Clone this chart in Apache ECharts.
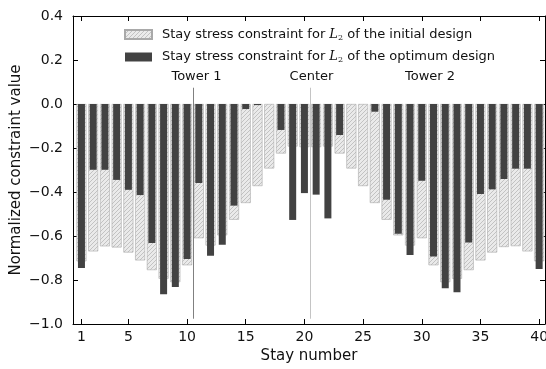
<!DOCTYPE html>
<html>
<head>
<meta charset="utf-8">
<script src="https://cdn.jsdelivr.net/npm/echarts@6/dist/echarts.min.js"></script>
<style>
  html, body { margin: 0; padding: 0; background: #fff; }
  #chart { width: 546px; height: 369px; }
</style>
</head>
<body>
<div id="chart"></div>
<script>
// Stay numbers 1..40
const stays = [1,2,3,4,5,6,7,8,9,10,11,12,13,14,15,16,17,18,19,20,
               21,22,23,24,25,26,27,28,29,30,31,32,33,34,35,36,37,38,39,40];

// Stay stress constraint for L2, initial design
const initialDesign = [
  -0.715, -0.670, -0.647, -0.652, -0.675, -0.711, -0.755, -0.794, -0.810, -0.733,
  -0.610, -0.643, -0.597, -0.526, -0.450, -0.373, -0.293, -0.225, -0.193, -0.196,
  -0.196, -0.193, -0.225, -0.293, -0.373, -0.450, -0.526, -0.597, -0.643, -0.610,
  -0.733, -0.810, -0.794, -0.755, -0.711, -0.675, -0.650, -0.646, -0.670, -0.715
];

// Stay stress constraint for L2, optimum design
const optimumDesign = [
  -0.745, -0.299, -0.299, -0.345, -0.390, -0.414, -0.632, -0.865, -0.832, -0.705,
  -0.359, -0.690, -0.640, -0.462, -0.023, -0.005,  0.000, -0.118, -0.527, -0.405,
  -0.412, -0.520, -0.141,  0.000,  0.000, -0.035, -0.435, -0.590, -0.686, -0.349,
  -0.693, -0.838, -0.856, -0.629, -0.409, -0.388, -0.341, -0.294, -0.294, -0.750
];

const xTickValues = [1, 5, 10, 15, 20, 25, 30, 35, 40];
const yTicks = [-1.0, -0.8, -0.6, -0.4, -0.2, 0.0, 0.2, 0.4];

// Section annotations: [stay position, label]
const sectionLabels = [[10.8, 'Tower 1'], [20.6, 'Center'], [30.7, 'Tower 2']];
const labelLevel = 0.123;
// Vertical divider lines: [stay position, bottom, top]
const dividers = [[10.5, -0.976, 0.074], [20.5, -0.976, 0.074]];

const nameInitial = 'Stay stress constraint for L2 of the initial design';
const nameOptimum = 'Stay stress constraint for L2 of the optimum design';

// Diagonal hatch tile
function hatchPattern() {
  const c = document.createElement('canvas');
  const s = 4;
  c.width = s; c.height = s;
  const g = c.getContext('2d');
  g.fillStyle = '#eaeaea';
  g.fillRect(0, 0, s, s);
  g.strokeStyle = '#bdbdbd';
  g.lineWidth = 0.9;
  g.beginPath();
  g.moveTo(0, s); g.lineTo(s, 0);
  g.moveTo(-1, 1); g.lineTo(1, -1);
  g.moveTo(s - 1, s + 1); g.lineTo(s + 1, s - 1);
  g.stroke();
  return c;
}

const FONT = 'DejaVu Sans';
const xMin = 0.28, xMax = 40.5;

const chart = echarts.init(document.getElementById('chart'), null, { renderer: 'canvas' });

const fmtY = v => (v < 0 ? '\u2212' : '') + Math.abs(v).toFixed(1);

const axisLineStyle = { color: '#000', width: 1 };

chart.setOption({
  animation: false,
  backgroundColor: '#fff',
  textStyle: { fontFamily: FONT },
  grid: { left: 73, top: 16, width: 472, height: 308, containLabel: false, outerBoundsMode: 'none' },
  legend: {
    orient: 'vertical',
    left: 124,
    top: 28,
    padding: 0,
    icon: 'rect',
    itemWidth: 27,
    itemHeight: 9,
    itemGap: 9,
    data: [nameInitial, nameOptimum],
    formatter: n => n.replace('L2', '{it|L}{sub|2}'),
    textStyle: {
      fontFamily: FONT, fontSize: 13, color: '#111', padding: [0, 0, 0, 5],
      rich: {
        it: { fontFamily: 'DejaVu Serif', fontStyle: 'italic', fontSize: 13, color: '#111' },
        sub: { fontFamily: 'DejaVu Serif', fontSize: 8, color: '#111', verticalAlign: 'bottom', padding: [6, 0, 0, 0] }
      }
    }
  },
  xAxis: [
    {
      type: 'value', min: xMin, max: xMax, position: 'bottom',
      name: 'Stay number', nameLocation: 'middle', nameGap: 23,
      nameTextStyle: { fontFamily: FONT, fontSize: 15, color: '#111' },
      axisLine: { show: true, onZero: false, lineStyle: axisLineStyle },
      axisTick: { show: true, inside: true, length: 5, customValues: xTickValues, lineStyle: axisLineStyle },
      axisLabel: { show: true, customValues: xTickValues, fontFamily: FONT, fontSize: 14, color: '#111', margin: 6 },
      splitLine: { show: false }
    },
    {
      type: 'value', min: xMin, max: xMax, position: 'top',
      axisLine: { show: true, onZero: false, lineStyle: axisLineStyle },
      axisTick: { show: true, inside: true, length: 5, customValues: xTickValues, lineStyle: axisLineStyle },
      axisLabel: { show: false },
      splitLine: { show: false }
    }
  ],
  yAxis: [
    {
      type: 'value', min: -1.0, max: 0.4, interval: 0.2, position: 'left',
      name: 'Normalized constraint value', nameLocation: 'middle', nameGap: 49,
      nameMoveOverlap: false,
      nameTextStyle: { fontFamily: FONT, fontSize: 15, color: '#111' },
      axisLine: { show: true, onZero: false, lineStyle: axisLineStyle },
      axisTick: { show: true, inside: true, length: 5, customValues: yTicks, lineStyle: axisLineStyle },
      axisLabel: { show: true, customValues: yTicks, formatter: fmtY, fontFamily: FONT, fontSize: 14, color: '#111', margin: 10 },
      splitLine: { show: false }
    },
    {
      type: 'value', min: -1.0, max: 0.4, interval: 0.2, position: 'right',
      axisLine: { show: true, onZero: false, lineStyle: axisLineStyle },
      axisTick: { show: true, inside: true, length: 5, customValues: yTicks, lineStyle: axisLineStyle },
      axisLabel: { show: false },
      splitLine: { show: false }
    }
  ],
  series: [
    {
      name: nameInitial,
      type: 'bar',
      xAxisIndex: 0, yAxisIndex: 0,
      barWidth: 10,
      data: stays.map((s, i) => [s, initialDesign[i]]),
      itemStyle: {
        color: { image: hatchPattern(), repeat: 'repeat' },
        borderColor: '#a9a9a9',
        borderWidth: 0.6
      },
      z: 2
    },
    {
      name: nameOptimum,
      type: 'bar',
      xAxisIndex: 1, yAxisIndex: 0,
      barWidth: 7,
      data: stays.map((s, i) => [s, optimumDesign[i]]),
      itemStyle: { color: '#424242' },
      z: 3,
      markLine: {
        silent: true,
        symbol: ['none', 'none'],
        label: { show: false },
        animation: false,
        data: dividers.map((d, i) => [
          { coord: [d[0], d[1]], lineStyle: { color: i === 0 ? '#808080' : '#c4c4c4', width: 1, type: 'solid' } },
          { coord: [d[0], d[2]] }
        ])
      }
    },
    {
      // Section names drawn as plain text at data coordinates
      type: 'custom',
      xAxisIndex: 0, yAxisIndex: 0,
      silent: true,
      data: sectionLabels.map(d => [d[0], labelLevel, d[1]]),
      renderItem: (params, api) => {
        const p = api.coord([api.value(0), api.value(1)]);
        return {
          type: 'text',
          x: p[0], y: p[1],
          style: {
            text: sectionLabels[params.dataIndex][1],
            fontFamily: FONT, fontSize: 13, fill: '#111',
            align: 'center', verticalAlign: 'middle'
          }
        };
      },
      z: 4
    }
  ]
});
</script>
</body>
</html>
